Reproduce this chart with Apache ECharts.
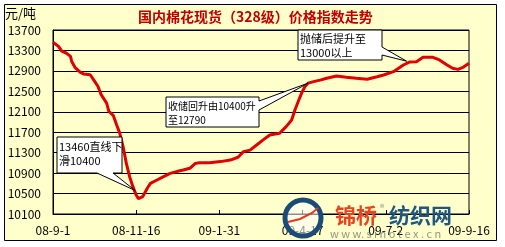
<!DOCTYPE html>
<html><head><meta charset="utf-8">
<script src="https://cdn.jsdelivr.net/npm/echarts@6/dist/echarts.min.js"></script>
<style>html,body{margin:0;padding:0;background:#fff}#c{width:505px;height:247px}</style>
</head><body><div id="c"></div>
<script>
// ---- data ----
const tickLabels = ['08-9-1','08-11-16','09-1-31','09-4-17','09-7-2','09-9-16'];
const dayIndex = [0,5,8,12,16,17,20,25,28,34,37,41,44,49,51,55,58,61,64,67,70,73,76,78,82,86,89,95,101,107,113,119,125,130,134,143,153,162,169,174,180,186,192,198,207,213,218,221,224,227,230,233,238,244,250,259,268,277,287,296,302,311,320,326,332,338,347,353,360,365,370,375,380];
const prices = [13460,13380,13285,13250,13185,13090,12970,12870,12840,12825,12730,12600,12435,12270,12110,12030,11850,11680,11420,11090,10830,10635,10470,10400,10440,10600,10700,10765,10830,10895,10930,10960,10995,11090,11105,11105,11125,11155,11210,11320,11350,11450,11550,11645,11680,11810,11940,12135,12300,12460,12590,12660,12690,12720,12755,12800,12775,12755,12735,12785,12820,12885,13015,13075,13080,13165,13165,13115,13015,12950,12930,12975,13050];
const title = '国内棉花现货（328级）价格指数走势';
const unitLabel = '元/吨';
const callouts = [
  {text:'13460直线下\n滑10400', anchor:[75,10560]},
  {text:'收储回升由10400升\n至12790', anchor:[233,12660]},
  {text:'抛储后提升至\n13000以上', anchor:[323,13090]}
];
const yMin = 10100, yMax = 13700, yStep = 400;

const FONT = '"Noto Sans CJK SC", "Liberation Sans", sans-serif';
const chart = echarts.init(document.getElementById('c'));
const seriesData = dayIndex.map((d,i)=>[d, prices[i]]);

chart.setOption({
  backgroundColor:'#ffffff',
  animation:false,
  title:{text:title,left:133,top:5,textStyle:{fontFamily:FONT,fontSize:14,fontWeight:'bold',color:'#c00000'}},
  grid:{left:53,top:30,right:36,bottom:33,show:true,borderColor:'#000',borderWidth:1,backgroundColor:'#ffffcc'},
  xAxis:{type:'value',min:0,max:380,interval:76,
    axisLine:{show:true,lineStyle:{color:'#000',width:1}},
    axisTick:{show:true,inside:true,length:4,lineStyle:{color:'#000'}},
    splitLine:{show:false},
    axisLabel:{margin:10,color:'#000',fontSize:12,fontFamily:FONT,formatter:v=>tickLabels[Math.round(v/76)]||''}},
  yAxis:{type:'value',min:yMin,max:yMax,interval:yStep,
    axisLine:{show:true,lineStyle:{color:'#000',width:1}},
    axisTick:{show:false},
    splitLine:{show:true,lineStyle:{color:'#000',width:1}},
    axisLabel:{margin:12,color:'#000',fontSize:12,fontFamily:FONT,formatter:v=>String(v)}},
  series:[{type:'line',data:seriesData,showSymbol:false,smooth:false,
    lineStyle:{color:'#e00000',width:3},z:3}]
});

// callouts anchored to data coordinates
const tips = callouts.map(c=>chart.convertToPixel({gridIndex:0}, c.anchor));
function boxBottom(x0,y0,x1,y1,b1,b2,tip){return [[x0,y0],[x1,y0],[x1,y1],[b2,y1],tip,[b1,y1],[x0,y1]];}
function boxRight(x0,y0,x1,y1,b1,b2,tip){return [[x0,y0],[x1,y0],[x1,b1],tip,[x1,b2],[x1,y1],[x0,y1]];}
const boxes = [
  {pts:boxBottom(57,137,122,173,97,113,tips[0]), tx:59, ty:140, fs:11},
  {pts:boxRight(166,97,259,127,101,110,tips[1]), tx:168, ty:99, fs:10},
  {pts:boxRight(298,30,382,60,47,55,tips[2]), tx:300, ty:32, fs:11}
];
const graphics = [
  {type:'rect',z:-10,silent:true,shape:{x:4.5,y:4.5,width:492,height:236},style:{fill:'#ffffcc',stroke:'#000',lineWidth:1}},
  {type:'text',left:5,top:7,style:{text:unitLabel,font:'13px '+FONT,fill:'#000'}}
];
boxes.forEach((b,i)=>{
  graphics.push({type:'polygon',z:10,shape:{points:b.pts},style:{fill:'#fff',stroke:'#000',lineWidth:1}});
  graphics.push({type:'text',z:11,x:b.tx,y:b.ty,style:{text:callouts[i].text,font:b.fs+'px '+FONT,fill:'#000',lineHeight:14}});
});
// watermark logo
graphics.push(
  {type:'circle',z:20,shape:{cx:303,cy:218,r:18},style:{fill:'rgba(255,255,255,0.55)',stroke:'#1b4c78',lineWidth:5}},
  {type:'polyline',z:21,shape:{points:[[288,222],[300,219],[312,213],[318,208]]},style:{stroke:'#e03a22',lineWidth:2,fill:null}},
  {type:'text',z:21,x:335,y:205,style:{text:'锦桥',font:'bold 21px '+FONT,fill:'#e8431f'}},
  {type:'text',z:21,x:380,y:203,style:{text:'®',font:'9px '+FONT,fill:'#888'}},
  {type:'text',z:21,x:389,y:205,style:{text:'纺织网',font:'bold 21px '+FONT,fill:'#1d5683'}},
  {type:'text',z:21,x:330,y:228,style:{text:'w w w. s i n o t e x . c n',font:'11px '+FONT,fill:'rgba(110,110,110,0.75)'}}
);
chart.setOption({graphic:graphics});
</script></body></html>
